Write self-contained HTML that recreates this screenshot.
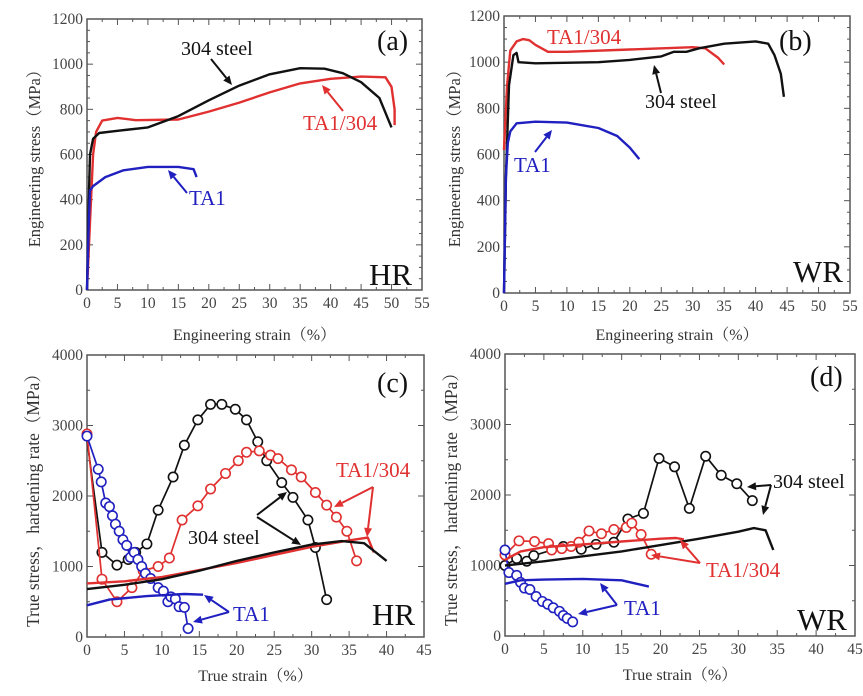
<!DOCTYPE html>
<html><head><meta charset="utf-8"><style>
body{margin:0;background:#fff;}
svg{display:block;font-family:"Liberation Serif","Noto Serif CJK SC",serif;}
</style></head><body>
<svg id="fig" width="863" height="696" viewBox="0 0 863 696"></svg>
<script>
// ---------- data ----------
const aSteelX=[0,0.3,0.5,1,2,5,10,15,20,25,30,35,39,42,45,48,50];
const aSteelY=[0,400,600,670,695,705,720,770,840,905,955,982,980,960,920,850,720];
const aCompX=[0,0.5,1,1.5,2.5,5,8,15,20,25,30,35,40,45,49,50,50.5,50.5];
const aCompY=[0,300,600,700,750,762,752,755,790,830,875,915,935,945,942,900,800,730];
const aTiX=[0,0.3,0.5,1,3,6,10,15,17.5,18];
const aTiY=[0,300,440,460,500,530,545,545,535,500];

const bSteelX=[0,0.3,0.8,1.5,2,2.3,5,15,20,25,27,29,31,35,40,42,43,44,44.5];
const bSteelY=[0,500,900,1030,1040,1000,995,1000,1010,1025,1045,1045,1060,1080,1090,1080,1030,950,850];
const bCompX=[0,0.5,1,2,3,4,5,7,10,20,30,32,34,35];
const bCompY=[620,900,1050,1090,1100,1095,1075,1045,1045,1055,1065,1060,1020,990];
const bTiX=[0,0.3,0.6,1,2,5,10,15,18,20,21.5];
const bTiY=[0,500,650,700,735,742,738,715,680,630,580];

const cSteelX=[0,5,10,15,20,25,30,34,37,40];
const cSteelY=[680,740,820,940,1080,1200,1310,1360,1330,1080];
const cCompX=[0,5,10,20,30,35,37.5,38.3];
const cCompY=[760,790,850,1050,1280,1370,1410,1200];
const cTiX=[0,3,8,13,15.5];
const cTiY=[450,530,580,610,600];
const cSteelHX=[0,2,4,5.5,6.5,8,9.5,11.5,13,14.8,16.5,18,19.8,21.3,22.8,24,26,27.5,29.5,30.5,32];
const cSteelHY=[2800,1200,1020,1100,1200,1320,1800,2270,2720,3080,3300,3300,3230,3080,2770,2500,2190,1980,1660,1270,530];
const cSteelHM=[0,1,1,1,1,1,1,1,1,1,1,1,1,1,1,1,1,1,1,1,1];
const cCompHX=[0,2,4,6,7.5,9.5,11,12.7,14.8,16.5,18.5,20.2,21.3,23,24.5,25.5,27.3,28.6,30.5,32,33.3,34.7,36];
const cCompHY=[2880,820,500,700,940,1000,1120,1660,1860,2100,2320,2500,2620,2640,2580,2530,2370,2270,2050,1870,1700,1500,1080];
const cTiHX=[0,1.5,1.9,2.5,3,3.4,3.8,4.3,4.8,5.3,5.8,6.3,6.8,7.3,7.8,8.5,9.5,10.2,10.8,11.2,11.8,12.3,13,13.5];
const cTiHY=[2850,2380,2200,1900,1850,1720,1600,1500,1380,1300,1130,1200,1100,1000,900,830,700,650,500,570,540,430,420,120];

const dSteelX=[0,5,10,15,20,25,30,32,33.5,34.5];
const dSteelY=[1000,1060,1130,1200,1290,1380,1480,1530,1500,1220];
const dCompX=[0,2,5,10,15,20,22,23];
const dCompY=[1080,1200,1260,1300,1340,1380,1390,1370];
const dTiX=[0,2,5,10,15,18.5];
const dTiY=[740,790,800,810,790,700];
const dSteelHX=[0,1.5,2.8,3.7,7.5,9.8,11.7,14,15.8,17.8,19.8,21.8,23.7,25.8,27.8,29.8,31.8];
const dSteelHY=[1000,1100,1060,1140,1270,1230,1300,1330,1660,1740,2520,2400,1810,2550,2280,2160,1920];
const dCompHX=[0,1.8,3.8,5.6,6,7.3,8.5,9.5,10.8,12.4,14,15.6,16.3,17.5,18.8];
const dCompHY=[1150,1350,1340,1310,1220,1240,1270,1330,1490,1450,1510,1540,1600,1440,1160];
const dTiHX=[0,0.5,1.5,2,2.5,3.2,4,4.8,5.5,6.2,7,7.5,8,8.7];
const dTiHY=[1220,900,860,760,680,660,560,490,450,400,350,290,250,200];

const engXTicks=[0,5,10,15,20,25,30,35,40,45,50,55];
const engYTicks=[0,200,400,600,800,1000,1200];
const trueXTicks=[0,5,10,15,20,25,30,35,40,45];
const trueYTicks=[0,1000,2000,3000,4000];

// ---------- drawing ----------
const NS='http://www.w3.org/2000/svg';
const svg=document.getElementById('fig');
function el(tag,attrs,parent,txt){const e=document.createElementNS(NS,tag);for(const k in attrs)e.setAttribute(k,attrs[k]);if(txt!==undefined)e.textContent=txt;(parent||svg).appendChild(e);return e;}
const RED='#e03030',BLUE='#2020c0',BLK='#111';

function panel(id,box,xmax,ymax,xt,yt,yminor,xTitle,yTitle,ytSize){
  const g=el('g',{});
  
  
  const sx=v=>box.l+(v/xmax)*(box.r-box.l);
  const sy=v=>box.b-(v/ymax)*(box.b-box.t);
  const fr=el('rect',{x:box.l,y:box.t,width:box.r-box.l,height:box.b-box.t,fill:'none',stroke:'#555','stroke-width':1.5},g);
  
  
  const xstep=xt[1]-xt[0];
  for(let v=0;v<=xmax+1e-9;v+=xstep/2){
    const major=Math.abs(v/xstep-Math.round(v/xstep))<1e-6;const L=major?6:3;
    el('line',{x1:sx(v),x2:sx(v),y1:box.b,y2:box.b-L,stroke:'#555','stroke-width':1},g);
    el('line',{x1:sx(v),x2:sx(v),y1:box.t,y2:box.t+L,stroke:'#555','stroke-width':1},g);
  }
  const ystep=yt[1]-yt[0];
  for(let v=0;v<=ymax+1e-9;v+=ystep/yminor){
    const major=Math.abs(v/ystep-Math.round(v/ystep))<1e-6;const L=major?6:3;
    el('line',{x1:box.l,x2:box.l+L,y1:sy(v),y2:sy(v),stroke:'#555','stroke-width':1},g);
    el('line',{x1:box.r,x2:box.r-L,y1:sy(v),y2:sy(v),stroke:'#555','stroke-width':1},g);
  }
  xt.forEach(v=>{const t=el('text',{x:sx(v),y:box.b+18,'text-anchor':'middle','font-size':15.5,fill:'#444'},g,v);
    });
  yt.forEach(v=>{const t=el('text',{x:box.l-4,y:sy(v)+5,'text-anchor':'end','font-size':15.5,fill:'#444'},g,v);
    });
  const xtT=el('text',{x:(box.l+box.r)/2,y:xTitle[1],'text-anchor':'middle','font-size':16,fill:'#333'},g,xTitle[0]);
  
  const cy=(box.t+box.b)/2;
  const ytT=el('text',{x:0,y:0,'text-anchor':'middle','font-size':ytSize,fill:'#333',transform:`translate(${yTitle[1]},${cy}) rotate(-90)`},g,yTitle[0]);
  
  return {g,sx,sy};
}
function line(p,xs,ys,color,name,w){
  const d=xs.map((x,i)=>(i?'L':'M')+p.sx(x).toFixed(1)+','+p.sy(ys[i]).toFixed(1)).join('');
  const e=el('path',{d:d,fill:'none',stroke:color,'stroke-width':w||2.4,'stroke-linejoin':'round'},p.g);
  
  
}
function markers(p,xs,ys,color,name,mask){
  line(p,xs,ys,color,name+'-line',1.7);
  xs.forEach((x,i)=>{ if(mask&&!mask[i])return;
    const c=el('circle',{cx:p.sx(x),cy:p.sy(ys[i]),r:4.7,fill:'#fff',stroke:color,'stroke-width':1.6},p.g);
    
    
  });
}
function label(p,x,y,txt,color,size,name){
  const t=el('text',{x:x,y:y,'font-size':size,fill:color},p.g,txt);
  
  
}
function arrow(p,x1,y1,x2,y2,color,name){
  const a=Math.atan2(y2-y1,x2-x1),L=9,W=4;
  const bx=x2-L*Math.cos(a),by=y2-L*Math.sin(a);
  const e=el('g',{},p.g);
  
  
  el('line',{x1:x1,y1:y1,x2:bx,y2:by,stroke:color,'stroke-width':2},e);
  el('polygon',{points:`${x2},${y2} ${bx-W*Math.sin(a)},${by+W*Math.cos(a)} ${bx+W*Math.sin(a)},${by-W*Math.cos(a)}`,fill:color},e);
}

// Panel a
const pa=panel('a',{l:87,r:422,t:19,b:290},55,1200,engXTicks,engYTicks,4,['Engineering strain（%）',340],['Engineering stress（MPa）',40],16.5);
line(pa,aCompX,aCompY,RED,'ta1-304-curve');
line(pa,aSteelX,aSteelY,BLK,'steel-304-curve');
line(pa,aTiX,aTiY,BLUE,'ta1-curve');
label(pa,181,55,'304 steel',BLK,20,'steel-304-label');arrow(pa,211,59,232,85,BLK,'steel-304-arrow');
label(pa,303,130,'TA1/304',RED,21,'ta1-304-label');arrow(pa,343,111,322,85,RED,'ta1-304-arrow');
label(pa,189,205,'TA1',BLUE,21,'ta1-label');arrow(pa,187,193,168,170,BLUE,'ta1-arrow');
label(pa,377,50,'(a)',BLK,28,'panel-label-a');label(pa,369,285,'HR',BLK,31,'condition-label-hr');

// Panel b
const pb=panel('b',{l:504,r:850,t:16,b:293},55,1200,engXTicks,engYTicks,4,['Engineering strain（%）',340],['Engineering stress（MPa）',460],16.5);
line(pb,bCompX,bCompY,RED,'ta1-304-curve');
line(pb,bSteelX,bSteelY,BLK,'steel-304-curve');
line(pb,bTiX,bTiY,BLUE,'ta1-curve');
label(pb,547,44,'TA1/304',RED,21,'ta1-304-label');
label(pb,645,108,'304 steel',BLK,20,'steel-304-label');arrow(pb,661,93,654,65,BLK,'steel-304-arrow');
label(pb,514,172,'TA1',BLUE,21,'ta1-label');arrow(pb,535,152,552,130,BLUE,'ta1-arrow');
label(pb,779,50,'(b)',BLK,28,'panel-label-b');label(pb,793,282,'WR',BLK,31,'condition-label-wr');

// Panel c
const pc=panel('c',{l:87,r:424,t:355,b:637},45,4000,trueXTicks,trueYTicks,2,['True strain（%）',681],['True stress，hardening rate（MPa）',39],17.5);
markers(pc,cSteelHX,cSteelHY,BLK,'steel-304-hardening',cSteelHM);
markers(pc,cCompHX,cCompHY,RED,'ta1-304-hardening');
markers(pc,cTiHX,cTiHY,BLUE,'ta1-hardening');
line(pc,cCompX,cCompY,RED,'ta1-304-true-stress');
line(pc,cSteelX,cSteelY,BLK,'steel-304-true-stress');
line(pc,cTiX,cTiY,BLUE,'ta1-true-stress');
label(pc,188,544,'304 steel',BLK,20,'steel-304-label');
arrow(pc,257,515,287,492,BLK,'steel-304-arrow-1');arrow(pc,257,517,301,545,BLK,'steel-304-arrow-2');
label(pc,336,477,'TA1/304',RED,21,'ta1-304-label');
arrow(pc,373,487,334,507,RED,'ta1-304-arrow-1');arrow(pc,373,487,367,537,RED,'ta1-304-arrow-2');
label(pc,233,621,'TA1',BLUE,21,'ta1-label');
arrow(pc,229,612,204,595,BLUE,'ta1-arrow-1');arrow(pc,229,612,193,622,BLUE,'ta1-arrow-2');
label(pc,377,392,'(c)',BLK,28,'panel-label-c');label(pc,372,625,'HR',BLK,31,'condition-label-hr');

// Panel d
const pd=panel('d',{l:505,r:855,t:354,b:636},45,4000,trueXTicks,trueYTicks,2,['True strain（%）',680],['True stress，hardening rate（MPa）',457],17.5);
markers(pd,dSteelHX,dSteelHY,BLK,'steel-304-hardening');
markers(pd,dCompHX,dCompHY,RED,'ta1-304-hardening');
markers(pd,dTiHX,dTiHY,BLUE,'ta1-hardening');
line(pd,dCompX,dCompY,RED,'ta1-304-true-stress');
line(pd,dSteelX,dSteelY,BLK,'steel-304-true-stress');
line(pd,dTiX,dTiY,BLUE,'ta1-true-stress');
label(pd,773,488,'304 steel',BLK,20,'steel-304-label');
arrow(pd,771,485,747,487,BLK,'steel-304-arrow-1');arrow(pd,771,485,763,515,BLK,'steel-304-arrow-2');
label(pd,706,577,'TA1/304',RED,21,'ta1-304-label');
arrow(pd,700,563,680,540,RED,'ta1-304-arrow-1');arrow(pd,700,563,651,555,RED,'ta1-304-arrow-2');
label(pd,624,615,'TA1',BLUE,21,'ta1-label');
arrow(pd,617,605,600,583,BLUE,'ta1-arrow-1');arrow(pd,617,605,578,614,BLUE,'ta1-arrow-2');
label(pd,810,386,'(d)',BLK,28,'panel-label-d');label(pd,797,630,'WR',BLK,31,'condition-label-wr');
</script>
</body></html>
